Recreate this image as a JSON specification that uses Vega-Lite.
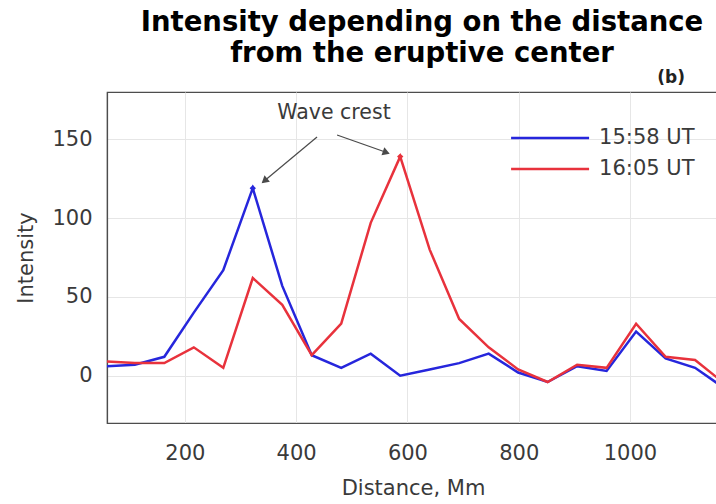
{
  "$schema": "https://vega.github.io/schema/vega-lite/v6.json",
  "width": 612,
  "height": 331,
  "autosize": {"type": "none"},
  "padding": {"left": 107, "top": 92, "right": 0, "bottom": 81},
  "background": "white",
  "title": {
    "text": ["Intensity depending on the distance", "from the eruptive center"],
    "font": "DejaVu Sans",
    "fontSize": 27.5,
    "fontWeight": "bold",
    "color": "#000000",
    "anchor": "middle",
    "frame": "group",
    "dx": 9,
    "offset": 1,
    "lineHeight": 31
  },
  "config": {
    "view": {"stroke": "#4d4d4d", "strokeWidth": 1.2},
    "axis": {
      "grid": true,
      "gridColor": "#e6e6e6",
      "gridWidth": 1,
      "domainColor": "#4d4d4d",
      "domainWidth": 1.2,
      "ticks": false,
      "labelFont": "DejaVu Sans",
      "labelFontSize": 21,
      "labelColor": "#3a3a3a",
      "titleFont": "DejaVu Sans",
      "titleFontSize": 21,
      "titleFontWeight": "normal",
      "titleColor": "#3a3a3a"
    }
  },
  "layer": [
    {
      "data": {
        "values": [
          {"distance": 57, "intensity": 6, "time": "15:58 UT"},
          {"distance": 110, "intensity": 7, "time": "15:58 UT"},
          {"distance": 163, "intensity": 12, "time": "15:58 UT"},
          {"distance": 216, "intensity": 40, "time": "15:58 UT"},
          {"distance": 269, "intensity": 67, "time": "15:58 UT"},
          {"distance": 322, "intensity": 119, "time": "15:58 UT"},
          {"distance": 375, "intensity": 57, "time": "15:58 UT"},
          {"distance": 428, "intensity": 13, "time": "15:58 UT"},
          {"distance": 481, "intensity": 5, "time": "15:58 UT"},
          {"distance": 534, "intensity": 14, "time": "15:58 UT"},
          {"distance": 587, "intensity": 0, "time": "15:58 UT"},
          {"distance": 640, "intensity": 4, "time": "15:58 UT"},
          {"distance": 693, "intensity": 8, "time": "15:58 UT"},
          {"distance": 746, "intensity": 14, "time": "15:58 UT"},
          {"distance": 799, "intensity": 2, "time": "15:58 UT"},
          {"distance": 852, "intensity": -4, "time": "15:58 UT"},
          {"distance": 905, "intensity": 6, "time": "15:58 UT"},
          {"distance": 958, "intensity": 3, "time": "15:58 UT"},
          {"distance": 1011, "intensity": 28, "time": "15:58 UT"},
          {"distance": 1064, "intensity": 11, "time": "15:58 UT"},
          {"distance": 1117, "intensity": 5, "time": "15:58 UT"},
          {"distance": 1170, "intensity": -8, "time": "15:58 UT"},
          {"distance": 57, "intensity": 9, "time": "16:05 UT"},
          {"distance": 110, "intensity": 8, "time": "16:05 UT"},
          {"distance": 163, "intensity": 8, "time": "16:05 UT"},
          {"distance": 216, "intensity": 18, "time": "16:05 UT"},
          {"distance": 269, "intensity": 5, "time": "16:05 UT"},
          {"distance": 322, "intensity": 62, "time": "16:05 UT"},
          {"distance": 375, "intensity": 45, "time": "16:05 UT"},
          {"distance": 428, "intensity": 13, "time": "16:05 UT"},
          {"distance": 481, "intensity": 33, "time": "16:05 UT"},
          {"distance": 534, "intensity": 97, "time": "16:05 UT"},
          {"distance": 587, "intensity": 139, "time": "16:05 UT"},
          {"distance": 640, "intensity": 80, "time": "16:05 UT"},
          {"distance": 693, "intensity": 36, "time": "16:05 UT"},
          {"distance": 746, "intensity": 18, "time": "16:05 UT"},
          {"distance": 799, "intensity": 4, "time": "16:05 UT"},
          {"distance": 852, "intensity": -4, "time": "16:05 UT"},
          {"distance": 905, "intensity": 7, "time": "16:05 UT"},
          {"distance": 958, "intensity": 5, "time": "16:05 UT"},
          {"distance": 1011, "intensity": 33, "time": "16:05 UT"},
          {"distance": 1064, "intensity": 12, "time": "16:05 UT"},
          {"distance": 1117, "intensity": 10, "time": "16:05 UT"},
          {"distance": 1170, "intensity": -5, "time": "16:05 UT"}
        ]
      },
      "mark": {"type": "line", "strokeWidth": 2.5, "clip": true},
      "encoding": {
        "x": {
          "field": "distance",
          "type": "quantitative",
          "scale": {"domain": [60, 1160], "nice": false, "zero": false},
          "axis": {"values": [200, 400, 600, 800, 1000], "format": "d", "labelPadding": 19, "title": "Distance, Mm", "titlePadding": 14}
        },
        "y": {
          "field": "intensity",
          "type": "quantitative",
          "scale": {"domain": [-30, 180], "nice": false},
          "axis": {"values": [0, 50, 100, 150], "labelPadding": 15, "title": "Intensity", "titlePadding": 15}
        },
        "color": {
          "field": "time",
          "type": "nominal",
          "scale": {"domain": ["15:58 UT", "16:05 UT"], "range": ["#2626dc", "#e8323c"]},
          "legend": null
        }
      }
    },
    {
      "data": {
        "values": [
          {"distance": 322, "intensity": 119, "time": "15:58 UT"},
          {"distance": 587, "intensity": 139, "time": "16:05 UT"}
        ]
      },
      "mark": {"type": "point", "filled": true, "size": 40, "opacity": 1, "shape": "diamond"},
      "encoding": {
        "x": {"field": "distance", "type": "quantitative"},
        "y": {"field": "intensity", "type": "quantitative"},
        "color": {"field": "time", "type": "nominal", "legend": null}
      }
    },
    {
      "data": {
        "values": [
          {"time": "15:58 UT", "key_i": 150.8},
          {"time": "16:05 UT", "key_i": 131.2}
        ]
      },
      "layer": [
        {
          "mark": {"type": "rule", "strokeWidth": 2.5},
          "encoding": {
            "x": {"datum": 786.3, "type": "quantitative"},
            "x2": {"datum": 926.5},
            "y": {"field": "key_i", "type": "quantitative"},
            "color": {"field": "time", "type": "nominal", "legend": null}
          }
        },
        {
          "mark": {"type": "text", "font": "DejaVu Sans", "fontSize": 21, "color": "#3a3a3a", "align": "left", "baseline": "middle"},
          "encoding": {
            "x": {"datum": 944.5, "type": "quantitative"},
            "y": {"field": "key_i", "type": "quantitative"},
            "text": {"field": "time"}
          }
        }
      ]
    },
    {
      "data": {
        "values": [
          {"from_d": 437.5, "from_i": 151.5, "to_d": 340.4, "to_i": 122.9},
          {"from_d": 473.5, "from_i": 152.7, "to_d": 565.2, "to_i": 141.3}
        ]
      },
      "mark": {"type": "rule", "color": "#4a4a4a", "strokeWidth": 1.2},
      "encoding": {
        "x": {"field": "from_d", "type": "quantitative"},
        "y": {"field": "from_i", "type": "quantitative"},
        "x2": {"field": "to_d"},
        "y2": {"field": "to_i"}
      }
    },
    {
      "data": {"values": [{"d": 344.6, "i": 124.1}]},
      "mark": {"type": "point", "shape": "triangle", "filled": true, "size": 70, "color": "#4a4a4a", "opacity": 1, "angle": 230},
      "encoding": {
        "x": {"field": "d", "type": "quantitative"},
        "y": {"field": "i", "type": "quantitative"}
      }
    },
    {
      "data": {"values": [{"d": 560, "i": 141.9}]},
      "mark": {"type": "point", "shape": "triangle", "filled": true, "size": 70, "color": "#4a4a4a", "opacity": 1, "angle": 110},
      "encoding": {
        "x": {"field": "d", "type": "quantitative"},
        "y": {"field": "i", "type": "quantitative"}
      }
    },
    {
      "data": {"values": [{"d": 468, "i": 166.7, "label": "Wave crest"}]},
      "mark": {"type": "text", "font": "DejaVu Sans", "fontSize": 20.5, "color": "#3a3a3a", "align": "center", "baseline": "middle"},
      "encoding": {
        "x": {"field": "d", "type": "quantitative"},
        "y": {"field": "i", "type": "quantitative"},
        "text": {"field": "label"}
      }
    },
    {
      "data": {"values": [{"d": 1074, "i": 189, "label": "(b)"}]},
      "mark": {"type": "text", "font": "DejaVu Sans", "fontWeight": "bold", "fontSize": 17, "color": "#222222", "align": "center", "baseline": "middle"},
      "encoding": {
        "x": {"field": "d", "type": "quantitative"},
        "y": {"field": "i", "type": "quantitative"},
        "text": {"field": "label"}
      }
    }
  ]
}
